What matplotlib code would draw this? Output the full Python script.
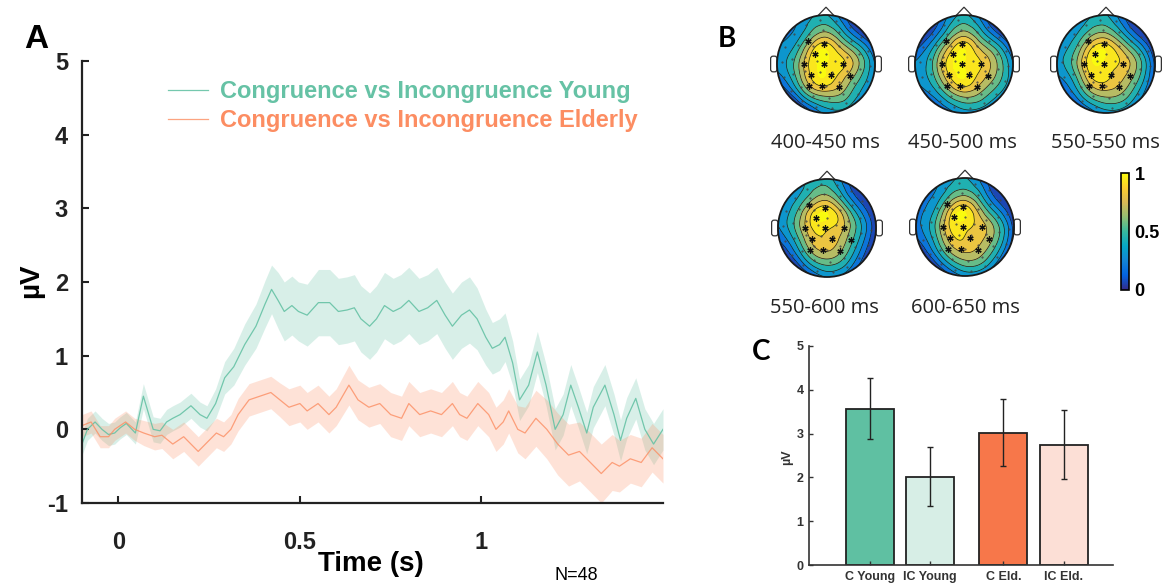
import numpy as np
import matplotlib
matplotlib.use("Agg")
from matplotlib import pyplot as plt
import matplotlib.tri as mtri
from matplotlib.colors import LinearSegmentedColormap, Normalize
from matplotlib.cm import ScalarMappable
from matplotlib.patches import Circle, Polygon, FancyBboxPatch

plt.rcParams['font.family'] = ['Liberation Sans', 'DejaVu Sans']
plt.rcParams['axes.unicode_minus'] = False

# ---------------- panel A: difference waves ----------------
young_t = [-0.10, -0.085, -0.064, -0.045, -0.027, -0.01, 0.005, 0.022, 0.047, 0.069,
           0.096, 0.115, 0.133, 0.15, 0.17, 0.2, 0.225, 0.244, 0.268, 0.293,
           0.318, 0.348, 0.379, 0.404, 0.422, 0.44, 0.457, 0.478, 0.496, 0.52,
           0.551, 0.582, 0.606, 0.63, 0.65, 0.668, 0.692, 0.711, 0.733, 0.757,
           0.778, 0.80, 0.828, 0.852, 0.877, 0.90, 0.92, 0.945, 0.967, 0.988,
           1.012, 1.03, 1.05, 1.065, 1.086, 1.105, 1.13, 1.154, 1.178, 1.203,
           1.225, 1.246, 1.267, 1.29, 1.308, 1.34, 1.365, 1.383, 1.40, 1.425,
           1.45, 1.474, 1.50]
young_mean = [-0.2, 0.0, 0.1, 0.0, -0.07, -0.05, 0.02, 0.08, -0.05, 0.45,
              0.0, -0.02, 0.1, 0.15, 0.2, 0.32, 0.2, 0.15, 0.35, 0.7,
              0.85, 1.15, 1.4, 1.7, 1.9, 1.75, 1.6, 1.68, 1.6, 1.55,
              1.72, 1.72, 1.6, 1.62, 1.65, 1.5, 1.4, 1.5, 1.68, 1.6,
              1.65, 1.75, 1.6, 1.65, 1.75, 1.55, 1.4, 1.55, 1.62, 1.5,
              1.25, 1.1, 1.15, 1.25, 0.9, 0.4, 0.6, 1.05, 0.6, 0.0,
              0.2, 0.6, 0.3, -0.05, 0.3, 0.6, 0.2, -0.15, 0.15, 0.42,
              0.0, -0.2, 0.0]
young_sem = [0.15, 0.15, 0.15, 0.15, 0.15, 0.15, 0.15, 0.15, 0.15, 0.17,
             0.17, 0.17, 0.17, 0.17, 0.17, 0.17, 0.17, 0.17, 0.2, 0.22,
             0.25, 0.28, 0.3, 0.32, 0.33, 0.38, 0.4, 0.4, 0.4, 0.42,
             0.45, 0.45, 0.45, 0.45, 0.45, 0.45, 0.45, 0.45, 0.45, 0.45,
             0.45, 0.45, 0.45, 0.45, 0.45, 0.45, 0.45, 0.45, 0.45, 0.42,
             0.38, 0.35, 0.35, 0.33, 0.3, 0.28, 0.28, 0.28, 0.28, 0.28,
             0.28, 0.28, 0.28, 0.28, 0.28, 0.28, 0.28, 0.28, 0.28, 0.28,
             0.28, 0.28, 0.28]

eld_t = [-0.10, -0.075, -0.05, -0.027, -0.01, 0.02, 0.045, 0.07, 0.10, 0.12,
         0.15, 0.18, 0.20, 0.22, 0.25, 0.27, 0.29, 0.31, 0.33, 0.36,
         0.39, 0.42, 0.445, 0.47, 0.50, 0.52, 0.55, 0.58, 0.60, 0.635,
         0.66, 0.69, 0.72, 0.75, 0.78, 0.80, 0.83, 0.86, 0.89, 0.92,
         0.94, 0.96, 0.99, 1.02, 1.04, 1.06, 1.075, 1.10, 1.12, 1.15,
         1.18, 1.21, 1.24, 1.27, 1.30, 1.33, 1.36, 1.38, 1.41, 1.44,
         1.47, 1.50]
eld_mean = [0.05, 0.1, -0.1, -0.1, 0.0, 0.1, 0.0, -0.05, -0.1, -0.08,
            -0.2, -0.1, -0.2, -0.3, -0.15, -0.05, -0.1, 0.0, 0.2, 0.4,
            0.45, 0.5, 0.4, 0.3, 0.35, 0.25, 0.35, 0.2, 0.3, 0.6,
            0.4, 0.3, 0.35, 0.2, 0.15, 0.35, 0.2, 0.25, 0.2, 0.35,
            0.2, 0.15, 0.35, 0.2, 0.0, 0.1, 0.25, 0.0, -0.05, 0.15,
            0.0, -0.2, -0.35, -0.3, -0.45, -0.6, -0.45, -0.5, -0.4, -0.45,
            -0.25, -0.4]
eld_sem = [0.15, 0.15, 0.15, 0.15, 0.15, 0.15, 0.15, 0.17, 0.18, 0.18,
           0.2, 0.2, 0.2, 0.2, 0.2, 0.2, 0.2, 0.2, 0.22, 0.22,
           0.22, 0.22, 0.23, 0.25, 0.25, 0.25, 0.25, 0.25, 0.25, 0.27,
           0.27, 0.27, 0.27, 0.3, 0.3, 0.3, 0.3, 0.3, 0.3, 0.3,
           0.3, 0.3, 0.3, 0.3, 0.3, 0.3, 0.3, 0.32, 0.35, 0.38,
           0.4, 0.42, 0.42, 0.4, 0.4, 0.4, 0.38, 0.35, 0.33, 0.33,
           0.33, 0.33]

series_labels = ["Congruence vs Incongruence Young", "Congruence vs Incongruence Elderly"]
green = '#66c2a5'
orange = '#fc8d62'

# ---------------- panel B: topographies ----------------
topo_labels = ["400-450 ms", "450-500 ms", "550-550 ms", "550-600 ms", "600-650 ms"]
# values at: centre, ring r=0.35 (8 angles from 0 deg), ring r=0.68 (12 angles), rim (12 angles)
topo_values = [
    [1.0,
     0.9, 0.86, 0.96, 0.92, 0.88, 0.94, 0.95, 0.86,
     0.62, 0.5, 0.45, 0.6, 0.52, 0.44, 0.48, 0.5, 0.58, 0.6, 0.62, 0.56,
     0.15, 0.0, 0.02, 0.35, 0.28, 0.22, 0.28, 0.02, -0.06, 0.25, 0.3, 0.25],
    [1.0,
     0.88, 0.85, 0.97, 0.9, 0.9, 0.92, 0.97, 0.88,
     0.62, 0.52, 0.48, 0.62, 0.48, 0.42, 0.46, 0.48, 0.54, 0.62, 0.62, 0.62,
     0.18, 0.0, 0.05, 0.36, 0.1, -0.04, 0.26, 0.2, 0.12, 0.26, 0.28, 0.28],
    [0.95,
     0.84, 0.84, 0.94, 0.97, 0.93, 0.92, 0.88, 0.82,
     0.56, 0.44, 0.42, 0.58, 0.58, 0.52, 0.52, 0.48, 0.58, 0.62, 0.62, 0.56,
     -0.02, -0.06, 0.0, 0.36, 0.3, 0.26, 0.3, 0.12, 0.08, 0.26, 0.25, 0.12],
    [0.9,
     0.74, 0.84, 0.97, 0.96, 0.84, 0.82, 0.82, 0.74,
     0.4, 0.36, 0.42, 0.62, 0.58, 0.52, 0.48, 0.42, 0.52, 0.58, 0.52, 0.4,
     -0.06, -0.06, 0.06, 0.4, 0.35, 0.25, 0.2, -0.02, -0.02, 0.2, 0.12, -0.04],
    [0.92,
     0.8, 0.8, 0.97, 0.93, 0.84, 0.84, 0.84, 0.8,
     0.52, 0.36, 0.42, 0.58, 0.52, 0.42, 0.42, 0.42, 0.52, 0.62, 0.62, 0.56,
     -0.04, -0.06, 0.06, 0.36, 0.26, 0.2, 0.18, -0.02, -0.02, 0.2, 0.18, 0.06],
]
sig_x = [-0.37, -0.04, -0.22, -0.44, -0.05, 0.35, -0.30, 0.11, 0.48, -0.35, -0.09, 0.26]
sig_y = [0.47, 0.40, 0.20, -0.01, -0.01, -0.01, -0.23, -0.23, -0.25, -0.45, -0.45, -0.47]

# ---------------- panel C: mean amplitudes ----------------
bar_labels = ["C Young", "IC Young", "C Eld.", "IC Eld."]
bar_values = [3.57, 2.02, 3.02, 2.75]
bar_errors = [0.69, 0.68, 0.76, 0.78]
bar_colors = ['#5fc0a2', '#d7eee6', '#f7774a', '#fcdfd6']

W, H = 1164, 583
fig = plt.figure(figsize=(W / 100, H / 100), dpi=100)


def px(x0, y0, x1, y1):
    return [x0 / W, 1 - y1 / H, (x1 - x0) / W, (y1 - y0) / H]


# ---- A ----
axA = fig.add_axes(px(82, 61, 663, 503))
axA.fill_between(young_t, np.array(young_mean) - young_sem, np.array(young_mean) + young_sem,
                 color=green, alpha=0.25, lw=0)
axA.fill_between(eld_t, np.array(eld_mean) - eld_sem, np.array(eld_mean) + eld_sem,
                 color=orange, alpha=0.25, lw=0)
l1, = axA.plot(young_t, young_mean, color=green, lw=0.9, alpha=0.9)
l2, = axA.plot(eld_t, eld_mean, color=orange, lw=0.9, alpha=0.8)
axA.set_xlim(-0.1, 1.5)
axA.set_ylim(-1, 5)
for s in ['top', 'right']:
    axA.spines[s].set_visible(False)
for s in ['left', 'bottom']:
    axA.spines[s].set_linewidth(1.6)
    axA.spines[s].set_color('#222222')
axA.set_xticks([0, 0.5, 1])
axA.set_xticklabels(['0', '0.5', '1'])
axA.set_yticks(range(-1, 6))
axA.tick_params(direction='in', length=5, width=1.5, labelsize=17, colors='#222222')
axA.tick_params(axis='x', pad=20)
axA.tick_params(axis='y', pad=10)
for lab in axA.get_xticklabels() + axA.get_yticklabels():
    lab.set_fontweight('bold')
leg = axA.legend([l1, l2], series_labels, loc='upper left', bbox_to_anchor=(168 / W, 1 - 80 / H),
                 bbox_transform=fig.transFigure, frameon=False, borderpad=0, borderaxespad=0,
                 handlelength=1.7, handletextpad=0.5, labelspacing=0.25,
                 prop={'weight': 'bold', 'size': 17}, labelcolor=[green, orange])
fig.text(371 / W, 1 - 564 / H, 'Time (s)', ha='center', va='center', fontsize=20, fontweight='bold')
fig.text(31 / W, 1 - 281 / H, 'µV', ha='center', va='center', rotation=90, fontsize=20,
         fontweight='bold')
fig.text(576 / W, 1 - 575 / H, 'N=48', ha='center', va='center', fontsize=13)
fig.text(36 / W, 1 - 40 / H, 'A', ha='center', va='center', fontsize=24, fontweight='bold')

# ---- B ----
parula = LinearSegmentedColormap.from_list(
    'parula', ['#352a87', '#0363e1', '#1485d4', '#06a7c6', '#38b99e',
               '#92bf73', '#d9ba56', '#fcce2e', '#f9fb0e'])
levels = np.linspace(0, 1, 9)

ang8 = np.deg2rad(np.arange(0, 360, 45))
ang12 = np.deg2rad(np.arange(0, 360, 30))
ex = np.concatenate([[0], 0.35 * np.cos(ang8), 0.68 * np.cos(ang12), 1.06 * np.cos(ang12)])
ey = np.concatenate([[0], 0.35 * np.sin(ang8), 0.68 * np.sin(ang12), 1.06 * np.sin(ang12)])
triang = mtri.Triangulation(ex, ey)
refiner = mtri.UniformTriRefiner(triang)

dot_r = [0.2, 0.45, 0.7, 0.9]
dot_n = [5, 10, 14, 18]
dx = np.concatenate([r * np.cos(np.linspace(0, 2 * np.pi, n, endpoint=False) + 0.3) for r, n in zip(dot_r, dot_n)])
dy = np.concatenate([r * np.sin(np.linspace(0, 2 * np.pi, n, endpoint=False) + 0.3) for r, n in zip(dot_r, dot_n)])

centers = [(826, 64), (964, 64), (1106, 64), (827, 228), (965, 227)]
label_pos = [(825, 143), (962, 143), (1105, 143), (824, 308), (965, 308)]
R = 49
for i, (cx, cy) in enumerate(centers):
    ax = fig.add_axes(px(cx - 1.3 * R, cy - 1.3 * R, cx + 1.3 * R, cy + 1.3 * R))
    ax.set_xlim(-1.3, 1.3)
    ax.set_ylim(-1.3, 1.3)
    ax.axis('off')
    tri_r, z_r = refiner.refine_field(np.array(topo_values[i]), subdiv=4)
    clip = Circle((0, 0), 1, transform=ax.transData)
    cf = ax.tricontourf(tri_r, z_r, levels=levels, cmap=parula, extend='both', zorder=1)
    cf.set_clip_path(clip)
    cl = ax.tricontour(tri_r, z_r, levels=levels[1:-1], colors='#1a1a1a', linewidths=0.5, zorder=2)
    cl.set_clip_path(clip)
    for side in (-1, 1):
        ax.add_patch(FancyBboxPatch((side * 1.065 - 0.065, -0.16), 0.13, 0.32,
                                    boxstyle='round,pad=0,rounding_size=0.05',
                                    fc='white', ec='#333333', lw=0.9, zorder=0))
    ax.add_patch(Polygon([(-0.17, 0.98), (0, 1.16), (0.17, 0.98)], closed=True,
                         fc='white', ec='#333333', lw=0.9, zorder=0))
    ax.add_patch(Circle((0, 0), 1, fill=False, ec='#1a1a1a', lw=1.3, zorder=4))
    ax.plot(dx, dy, ls='none', marker='.', ms=1.0, color='#444444', zorder=3)
    ax.plot(sig_x, sig_y, ls='none', marker=(6, 2, 0), ms=4.5, mew=0.9, color='#111111', zorder=3)
    lx, ly = label_pos[i]
    fig.text(lx / W, 1 - ly / H, topo_labels[i], ha='center', va='center', fontsize=14.5,
             family=['Open Sans', 'DejaVu Sans'], color='#222222')

cax = fig.add_axes(px(1121, 173, 1129, 290))
cb = fig.colorbar(ScalarMappable(norm=Normalize(0, 1), cmap=parula), cax=cax, ticks=[0, 0.5, 1])
cb.ax.set_yticklabels(['0', '0.5', '1'])
cb.ax.tick_params(length=0, labelsize=13, pad=4)
for lab in cb.ax.get_yticklabels():
    lab.set_fontweight('bold')
cb.outline.set_linewidth(1.2)
fig.text(727 / W, 1 - 39 / H, 'B', ha='center', va='center', fontsize=20, fontweight='bold',
         family=['Lato', 'DejaVu Sans'])

# ---- C ----
axC = fig.add_axes(px(809, 346, 1113, 565))
pos = [1, 2, 3.22, 4.23]
axC.bar(pos, bar_values, width=0.8, color=bar_colors, edgecolor='#222222', lw=1.3,
        yerr=bar_errors, error_kw=dict(ecolor='#222222', elinewidth=1.0, capsize=2, capthick=1.0))
axC.set_xlim(-0.02, 5.05)
axC.set_ylim(0, 5)
axC.set_xticks(pos)
axC.set_xticklabels(bar_labels)
axC.set_yticks(range(6))
for s in ['top', 'right']:
    axC.spines[s].set_visible(False)
for s in ['left', 'bottom']:
    axC.spines[s].set_linewidth(1.2)
    axC.spines[s].set_color('#333333')
axC.tick_params(direction='in', length=3, width=1.0, labelsize=9, colors='#333333', pad=4)
for lab in axC.get_xticklabels() + axC.get_yticklabels():
    lab.set_fontweight('bold')
fig.text(787 / W, 1 - 457 / H, 'µV', ha='center', va='center', rotation=90, fontsize=9,
         fontweight='bold', color='#333333')
fig.text(761 / W, 1 - 352 / H, 'C', ha='center', va='center', fontsize=20, fontweight='bold',
         family=['Lato', 'DejaVu Sans'])

fig.savefig('out.png', dpi=100)
